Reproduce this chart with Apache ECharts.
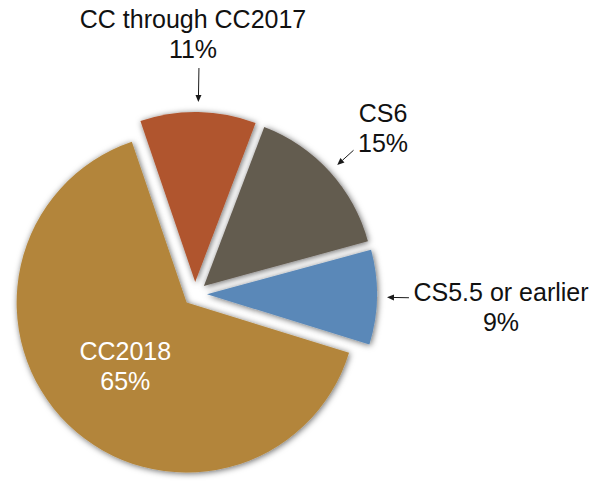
<!DOCTYPE html>
<html><head><meta charset="utf-8">
<script src="https://cdn.jsdelivr.net/npm/echarts@6/dist/echarts.min.js"></script>
<style>html,body{margin:0;padding:0;background:#fff}#c{width:600px;height:491px}</style>
</head><body><div id="c"></div>
<script>
// ---- data ----
const categories = ['CS5.5 or earlier', 'CC2018', 'CC through CC2017', 'CS6'];
const values = [9, 65, 11, 15];
const sliceColors = ['#5a88b8', '#b3853b', '#b0542d', '#645b50'];

// ---- presentation ----
const FONT = '"Helvetica Neue", Helvetica, "Liberation Sans", Arial, sans-serif';
const labelSpots = { 'CS5.5 or earlier': [501, 307], 'CC through CC2017': [193, 34], 'CS6': [383, 128] };
const arrowTail = { 'CS5.5 or earlier': 32, 'CC through CC2017': 44, 'CS6': 32 };
const insideNames = ['CC2018'];
const OFFSET = 12;

const chart = echarts.init(document.getElementById('c'), null, { renderer: 'svg' });

const seriesData = categories.map((name, i) => {
  const inside = insideNames.indexOf(name) >= 0;
  return {
    name: name,
    value: values[i],
    selected: true,
    itemStyle: { color: sliceColors[i] },
    select: { itemStyle: { color: sliceColors[i] } },
    label: inside ? { show: true, position: 'inside', color: '#ffffff' } : { show: false }
  };
});

chart.setOption({
  animation: false,
  backgroundColor: '#ffffff',
  series: [{
    type: 'pie',
    center: [195, 294],
    radius: 170,
    startAngle: 15.2,
    clockwise: true,
    selectedMode: 'multiple',
    selectedOffset: OFFSET,
    avoidLabelOverlap: false,
    percentPrecision: 0,
    itemStyle: {
      borderWidth: 0,
      shadowBlur: 6,
      shadowColor: 'rgba(0,0,0,0.6)',
      shadowOffsetX: 1,
      shadowOffsetY: 1
    },
    emphasis: { disabled: true, scale: false },
    label: {
      formatter: '{b}\n{d}%',
      fontSize: 25,
      lineHeight: 30,
      fontFamily: FONT,
      align: 'center'
    },
    labelLine: { show: false },
    data: seriesData
  }]
});

function drawAnnotations() {
  const data = chart.getModel().getSeriesByIndex(0).getData();
  const total = values.reduce((a, b) => a + b, 0);
  const els = [];
  categories.forEach((name, i) => {
    if (!(name in arrowTail)) return;
    const L = data.getItemLayout(i);
    const mid = (L.startAngle + L.endAngle) / 2;
    const dx = Math.cos(mid), dy = Math.sin(mid);
    const cx = L.cx + dx * OFFSET, cy = L.cy + dy * OFFSET;
    const tip = [cx + dx * (L.r + 10), cy + dy * (L.r + 10)];
    const tail = [cx + dx * (L.r + arrowTail[name]), cy + dy * (L.r + arrowTail[name])];
    const hl = 7, hw = 3;
    const base = [tip[0] + dx * hl, tip[1] + dy * hl];
    const px = -dy, py = dx;
    els.push({ type: 'line', silent: true, shape: { x1: tail[0], y1: tail[1], x2: base[0], y2: base[1] }, style: { stroke: '#1a1a1a', lineWidth: 1 } });
    els.push({ type: 'polygon', silent: true, shape: { points: [tip, [base[0] + px * hw, base[1] + py * hw], [base[0] - px * hw, base[1] - py * hw]] }, style: { fill: '#1a1a1a' } });
    const s = labelSpots[name];
    els.push({
      type: 'text', silent: true, x: s[0], y: s[1],
      style: {
        text: name + '\n' + Math.round(values[i] / total * 100) + '%',
        fontSize: 25, lineHeight: 30, fontFamily: FONT, fill: '#111111',
        align: 'center', verticalAlign: 'middle'
      }
    });
  });
  chart.setOption({ graphic: els });
}
drawAnnotations();
</script>
</body></html>
